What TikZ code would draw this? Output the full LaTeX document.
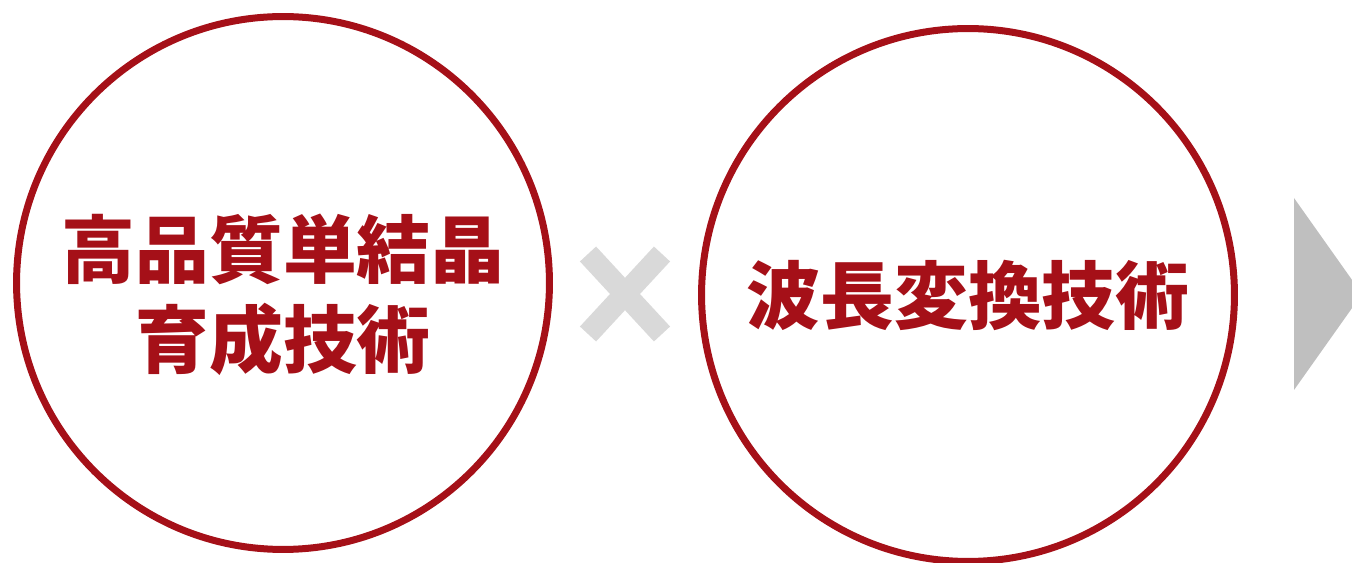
\documentclass[tikz,border=0pt]{standalone}
\usepackage{fontspec}
\newfontfamily\cjk{Noto Sans CJK JP}
\usetikzlibrary{positioning,calc}
\definecolor{ring red}{RGB}{165,16,24}
\definecolor{cross gray}{RGB}{217,217,217}
\definecolor{arrow gray}{RGB}{191,191,191}
\tikzset{
    ring/.style = {
        draw = ring red,
        line width = 0.14cm,
        circle,
        minimum size = 10.66cm,
        inner sep = 0pt,
        },
    tech/.style = {
        text = ring red,
        font = \cjk\bfseries\fontsize{42}{51}\selectfont,
        align = center,
        inner sep = 0pt,
        },
    cross/.style = {
        draw = cross gray,
        line width = 0.44cm,
        },
}
\begin{document}
\begin{tikzpicture}[x=0.02cm, y=-0.02cm]
            \useasboundingbox (0,0) rectangle (1352,563);
            \clip (0,0) rectangle (1352,563);

            \node[ring] (crystal) at (283,283) {};
            \node[ring] (conversion) at (968,295) {};

            \node[tech] (crystal text) at (283,295) {高品質単結晶\\育成技術};
            \node[tech] (conversion text) at (968,295) {波長変換技術};

            \coordinate (times) at (625,294);
            \draw[cross] ($(times)+(-37,-40)$) -- ($(times)+(37,40)$);
            \draw[cross] ($(times)+(37,-40)$) -- ($(times)+(-37,40)$);

            \fill[arrow gray] (1294,198) -- (1362,294) -- (1294,390) -- cycle;
        \end{tikzpicture}
\end{document}
